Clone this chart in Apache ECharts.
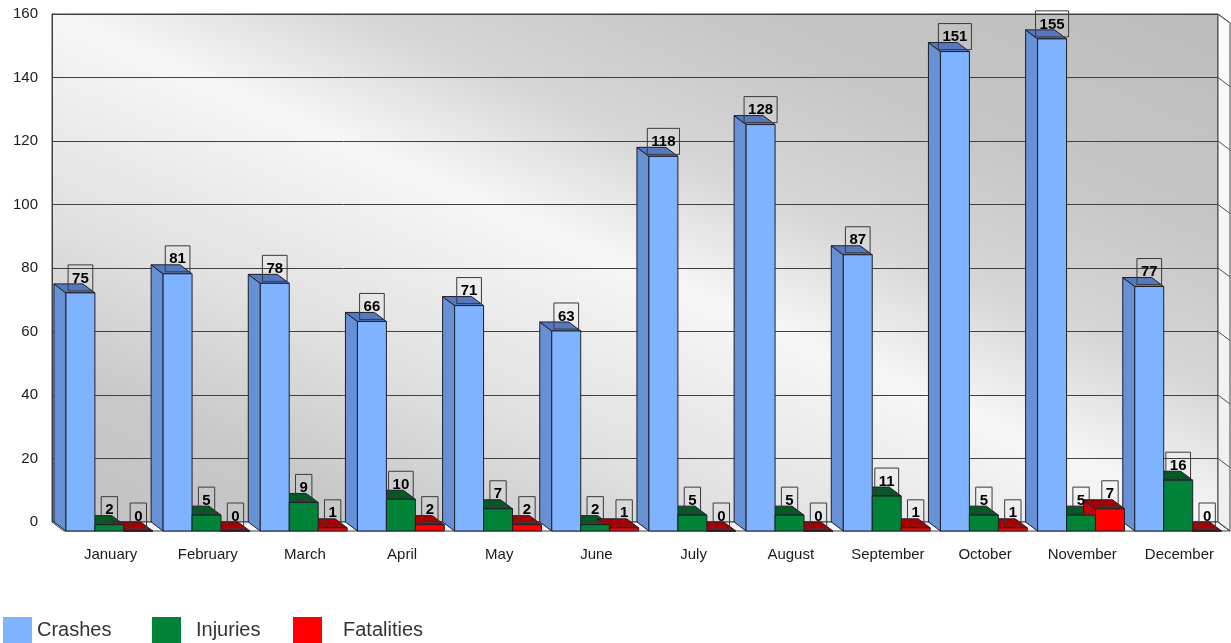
<!DOCTYPE html>
<html><head><meta charset="utf-8">
<script src="https://cdn.jsdelivr.net/npm/echarts@6/dist/echarts.min.js"></script>
<style>html,body{margin:0;padding:0;background:#fff}#c{width:1231px;height:643px}</style>
</head><body><div id="c"></div>
<script>
const months = ['January','February','March','April','May','June','July','August','September','October','November','December'];
const crashes = [75,81,78,66,71,63,118,128,87,151,155,77];
const injuries = [2,5,9,10,7,2,5,5,11,5,5,16];
const fatalities = [0,0,1,2,2,1,0,0,1,1,7,0];
const yTicks = [0,20,40,60,80,100,120,140,160];

const FONT = '"Liberation Sans", Arial, sans-serif';
const DX = 12, DY = 9, OFF = 0.02, BWF = 0.298;
const STROKE = '#1e1e2a';

const palettes = [
  {name:'Crashes', values:crashes, front:'#80b3ff', side:'#6791d4', top:'#5679bd'},
  {name:'Injuries', values:injuries, front:'#008336', side:'#006b2c', top:'#005c22'},
  {name:'Fatalities', values:fatalities, front:'#ff0000', side:'#cc0000', top:'#a80000'}
];

function geom(api, j){
  const i = api.value(0), v = api.value(1);
  const base = api.coord([i, 0]);
  const top = api.coord([i, v]);
  const band = api.size([1, 0])[0];
  const w = band * BWF;
  const x = base[0] - band / 2 + band * OFF + j * w;
  return {x, w, yb: base[1], yt: top[1], v};
}

const series = [];
series.push({
  type:'custom', z:1, clip:false, silent:true, data:[[0,0]],
  renderItem(params, api){
    const cs = params.coordSys;
    const l = cs.x, r = cs.x + cs.width, t = cs.y, b = cs.y + cs.height;
    const children = [
      {type:'polygon', shape:{points:[[l,b],[r,b],[r+DX,b+DY],[l+DX,b+DY]]}, style:{fill:'#f4f4f4', stroke:'#404040', lineWidth:1}},
      {type:'polygon', shape:{points:[[r,t],[r+DX,t+DY],[r+DX,b+DY],[r,b]]}, style:{fill:new echarts.graphic.LinearGradient(0,0,0,1,[{offset:0,color:'#fbfbfb'},{offset:1,color:'#eeeeee'}]), stroke:'#404040', lineWidth:1}}
    ];
    yTicks.forEach(function(tv){
      const y = api.coord([0, tv])[1];
      children.push({type:'line', shape:{x1:r, y1:y, x2:r+DX, y2:y+DY}, style:{stroke:'#505050', lineWidth:1}});
    });
    return {type:'group', children};
  }
});

palettes.forEach(function(p, j){
  const data = p.values.map(function(v, i){ return [i, v]; });
  series.push({
    type:'custom', name:p.name, z:2, clip:false, data, itemStyle:{color:p.front},
    renderItem(params, api){
      const g = geom(api, j);
      return {type:'group', children:[
        {type:'polygon', shape:{points:[[g.x,g.yb],[g.x,g.yt],[g.x+DX,g.yt+DY],[g.x+DX,g.yb+DY]]}, style:{fill:p.side, stroke:STROKE, lineWidth:1}},
        {type:'polygon', shape:{points:[[g.x,g.yt],[g.x+g.w,g.yt],[g.x+g.w+DX,g.yt+DY],[g.x+DX,g.yt+DY]]}, style:{fill:p.top, stroke:STROKE, lineWidth:1}}
      ]};
    }
  });
});
palettes.forEach(function(p, j){
  const data = p.values.map(function(v, i){ return [i, v]; });
  series.push({
    type:'custom', name:p.name, z:3, clip:false, data, itemStyle:{color:p.front},
    renderItem(params, api){
      const g = geom(api, j);
      return {type:'group', children:[
        {type:'rect', shape:{x:g.x+DX, y:g.yt+DY, width:g.w, height:g.yb-g.yt}, style:{fill:p.front, stroke:STROKE, lineWidth:1}},
        {type:'text', z2:10, style:{text:String(g.v), x:g.x+DX+g.w/2, y:g.yt+DY-2, align:'center', verticalAlign:'bottom',
          font:'bold 15px ' + FONT, lineHeight:15, fill:'#000', padding:[6,4,5,4], borderColor:'#3a3a3a', borderWidth:1}}
      ]};
    }
  });
});

const chart = echarts.init(document.getElementById('c'));
const legendBase = {top:617, padding:0, itemWidth:29, itemHeight:26, icon:'rect', selectedMode:false};
chart.setOption({
  animation:false,
  grid:{left:52, top:14, width:1166, height:508, show:true, borderColor:'#404040', borderWidth:1,
    backgroundColor:new echarts.graphic.LinearGradient(0.34,1.34,0.66,-0.34,[
      {offset:0,color:'#c2c2c2'},{offset:0.15,color:'#c8c8c8'},{offset:0.3,color:'#e0e0e0'},
      {offset:0.5,color:'#f6f6f6'},{offset:0.63,color:'#d6d6d6'},{offset:0.78,color:'#c6c6c6'},{offset:1,color:'#bcbcbc'}])},
  legend:[
    Object.assign({data:['Crashes'], left:3, textStyle:{fontSize:20, color:'#333', fontFamily:FONT}}, legendBase),
    Object.assign({data:['Injuries'], left:152, textStyle:{fontSize:20, color:'#333', fontFamily:FONT, padding:[0,0,0,10]}}, legendBase),
    Object.assign({data:['Fatalities'], left:293, textStyle:{fontSize:20, color:'#333', fontFamily:FONT, padding:[0,0,0,16]}}, legendBase)
  ],
  xAxis:{type:'category', data:months, axisLine:{show:false}, axisTick:{show:false}, splitLine:{show:false},
    axisLabel:{fontSize:15, color:'#1a1a1a', fontFamily:FONT, margin:25, padding:[0,0,0,20], interval:0}},
  yAxis:{type:'value', min:0, max:160, interval:20,
    axisLine:{show:true, lineStyle:{color:'#404040'}}, axisTick:{show:false},
    axisLabel:{fontSize:15, color:'#1a1a1a', fontFamily:FONT, margin:14},
    splitLine:{show:true, lineStyle:{color:'#404040', width:1}}},
  series
});
</script></body></html>
